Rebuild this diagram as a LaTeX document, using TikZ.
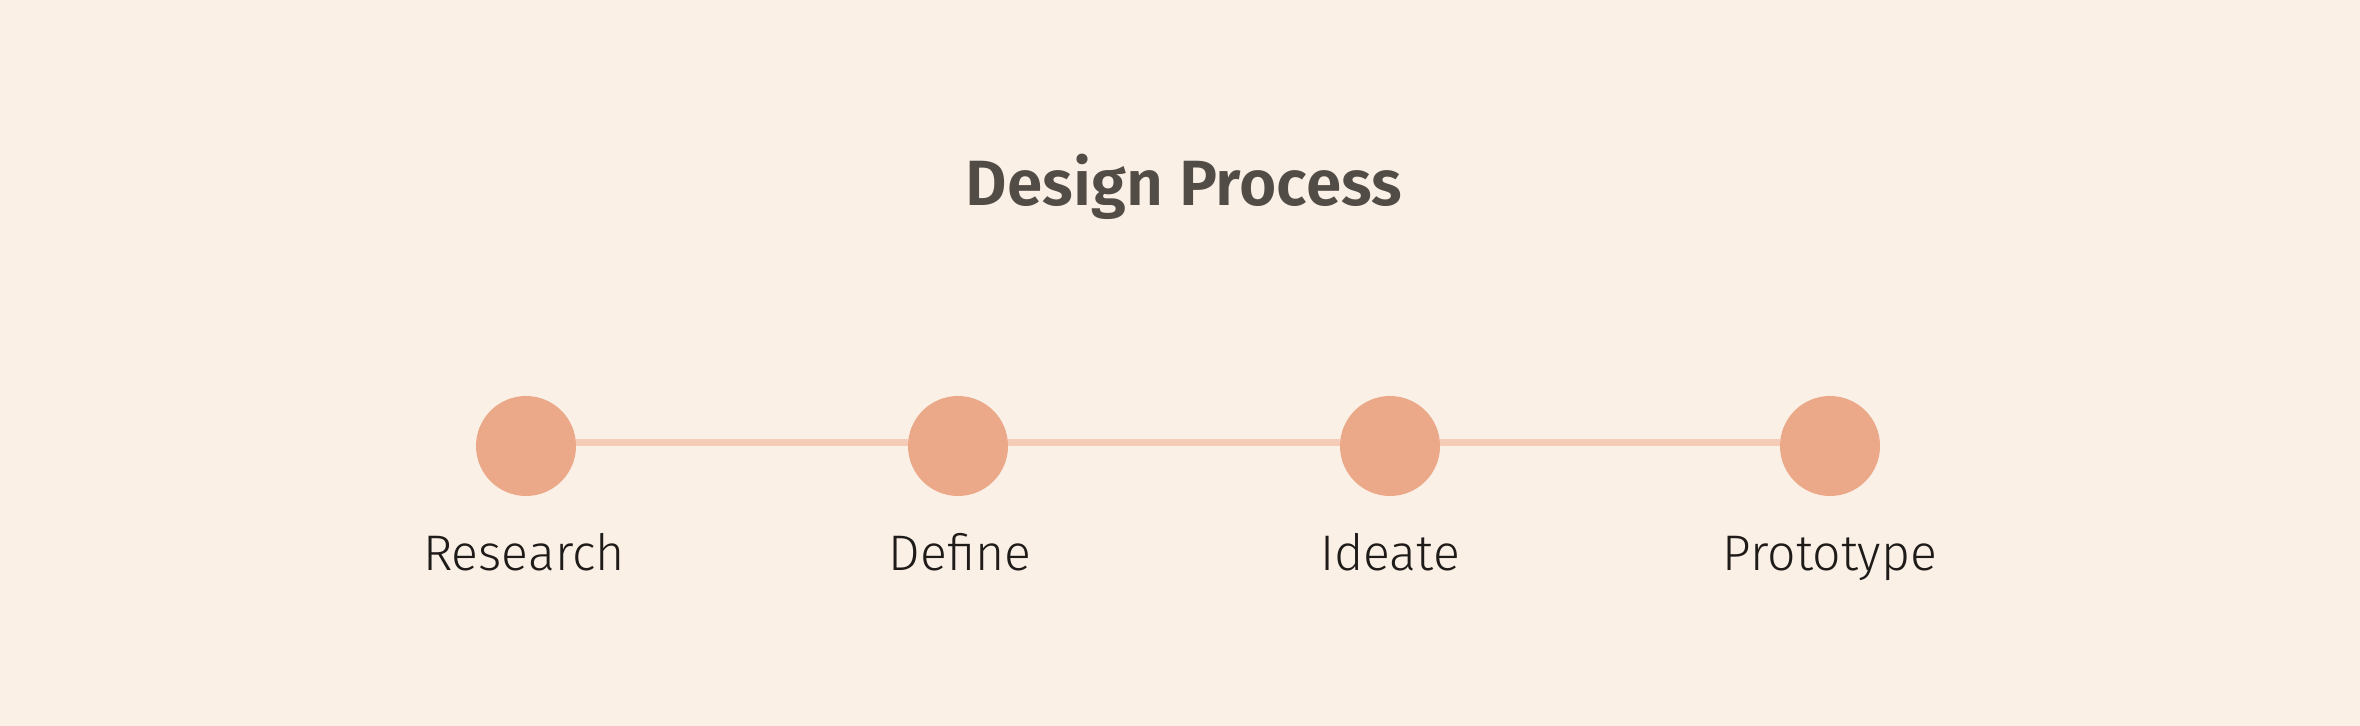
\documentclass[tikz,border=0pt]{standalone}
\usepackage{fontspec}
\usepackage{tikz}
\usepackage{xcolor}
\usetikzlibrary{positioning}
\newfontfamily\labelfont{Fira Sans Light}
\newfontfamily\titlefont{Fira Sans SemiBold}
\definecolor{bgcream}{HTML}{FAF0E6}
\definecolor{dotfill}{HTML}{EBA98A}
\definecolor{linkline}{HTML}{F5CCB8}
\definecolor{titlegray}{HTML}{524C47}
\definecolor{labelblack}{HTML}{1E1B19}

\begin{document}
\begin{tikzpicture}[x=0.5pt,y=-0.5pt]
\tikzstyle{stage}=[circle, fill=dotfill, minimum size=50pt, inner sep=0pt]
\tikzstyle{stagetext}=[anchor=base, inner sep=0pt, text=labelblack, font=\labelfont\fontsize{25}{30}\selectfont]
\tikzstyle{link}=[linkline, line width=3.5pt]
\fill [bgcream] (0,0) rectangle (2360,726);
\node (title) at (1184,206) [anchor=base, inner sep=0pt, text=titlegray, font=\titlefont\fontsize{32}{38}\selectfont] {Design Process};
\node [stage] (research) at (526,446) {};
\node [stage] (define) at (958,446) {};
\node [stage] (ideate) at (1390,446) {};
\node [stage] (prototype) at (1830,446) {};
% links sit a little above the centres
\draw [link] ([yshift=1.5pt]research.east) -- ([yshift=1.5pt]define.west);
\draw [link] ([yshift=1.5pt]define.east) -- ([yshift=1.5pt]ideate.west);
\draw [link] ([yshift=1.5pt]ideate.east) -- ([yshift=1.5pt]prototype.west);
\node [stagetext] (researchtext) at (524,570) {Research};
\node [stagetext] (definetext) at (960,570) {Define};
\node [stagetext] (ideatetext) at (1390,570) {Ideate};
\node [stagetext] (prototypetext) at (1830,570) {Prototype};
\end{tikzpicture}
\end{document}
